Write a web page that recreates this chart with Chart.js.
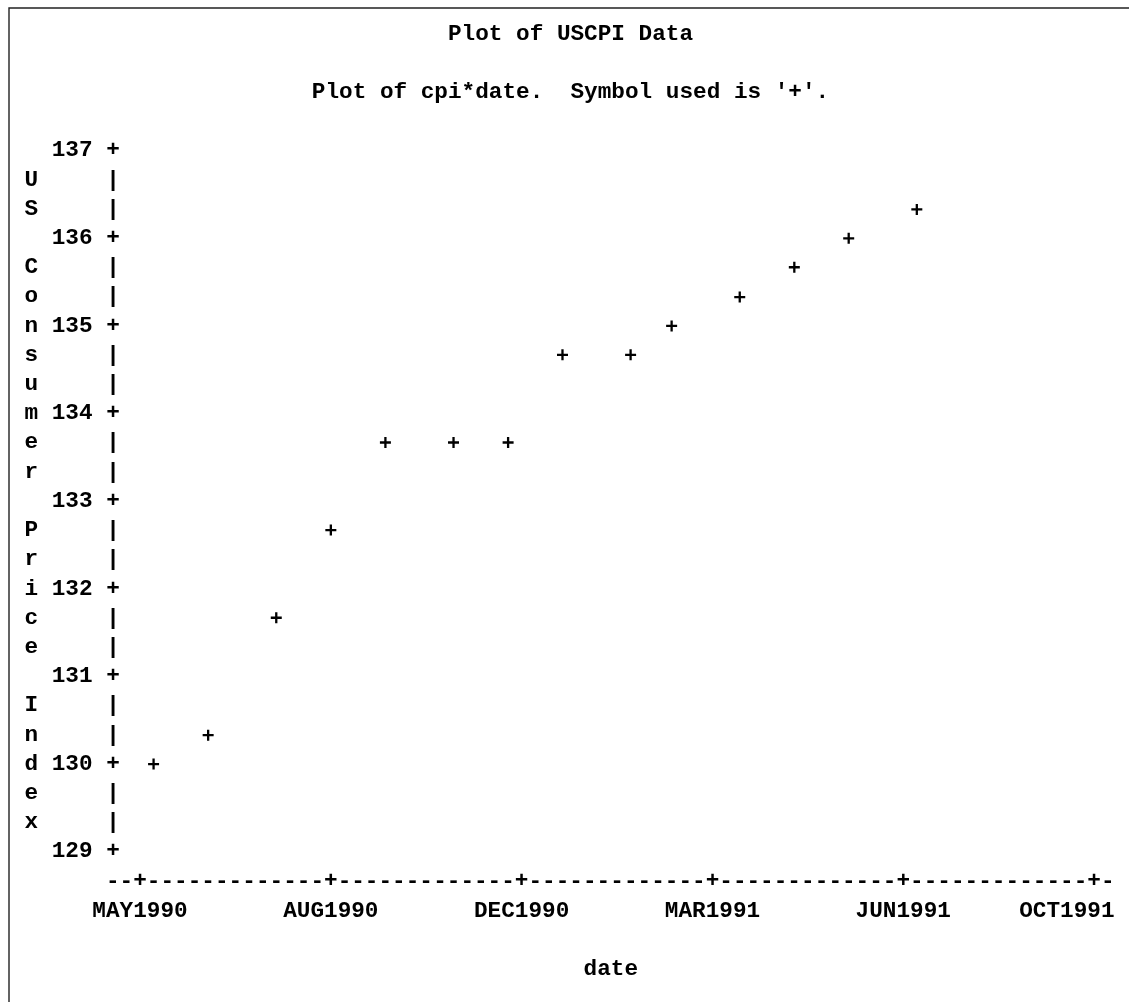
<!DOCTYPE html>
<html>
<head>
<meta charset="utf-8">
<script src="https://cdn.jsdelivr.net/npm/chart.js@4.4.1/dist/chart.umd.min.js"></script>
<style>
  body { margin: 0; background: #fff; }
  canvas { display: block; }
</style>
</head>
<body>
<canvas id="cpi" width="1129" height="1002"></canvas>
<script>
// USCPI, one value a month, JUN1990 .. JUL1991 (as plotted on the printer grid)
var months = ['JUN1990', 'JUL1990', 'AUG1990', 'SEP1990', 'OCT1990', 'NOV1990', 'DEC1990',
              'JAN1991', 'FEB1991', 'MAR1991', 'APR1991', 'MAY1991', 'JUN1991', 'JUL1991'];
// x position in days after 01MAY1990
var dayPos = [27.1, 55.7, 91.4, 120.0, 148.6, 184.3, 212.9, 241.4, 277.1, 298.6, 334.3, 362.9, 391.4, 427.1];
var cpi = [130.0, 130.33, 131.67, 132.67, 133.67, 133.67, 133.67, 134.67, 134.67, 135.0, 135.33, 135.67, 136.0, 136.33];

var xTickDays = [20, 120, 220, 320, 420, 520];
var xTickLabels = ['MAY1990', 'AUG1990', 'DEC1990', 'MAR1991', 'JUN1991', 'OCT1991'];
var yTicks = [129, 130, 131, 132, 133, 134, 135, 136, 137];

var titleText = 'Plot of USCPI Data';
var subtitleText = "Plot of cpi*date.  Symbol used is '+'.";
var yTitle = 'US Consumer Price Index';
var xTitle = 'date';

var mono = "'Liberation Mono', 'Courier New', monospace";
var fontSize = 22.7;
var lineH = 29.2 / 22.7;

// printer rows: three per unit on the vertical axis
var yRows = [];
yTicks.forEach(function (v, i) {
    yRows.push(v);
    if (i < yTicks.length - 1) {
        yRows.push(v + 1 / 3);
        yRows.push(v + 2 / 3);
    }
});

function yLabel(value, index) {
    var row = yRows.length - 1 - index;
    var pad = Math.floor((yRows.length - yTitle.length) / 2);
    var letter = yTitle.charAt(row - pad) || ' ';
    if (index % 3 === 0) {
        return letter + ' ' + String(value).padStart(3, ' ') + ' +';
    }
    return letter + '     |';
}

function xRule(i, n) {
    var left = i === 0 ? '     --' : ' ------';
    var right = i === n - 1 ? '-      ' : '-------';
    return left + '+' + right;
}

function xLabel(value, index) {
    var n = xTickLabels.length;
    var text = xTickLabels[index];
    if (index === n - 1) text += '    ';
    return [xRule(index, n), text];
}

var framePlugin = {
    id: 'frame',
    beforeDraw: function (chart) {
        var ctx = chart.ctx;
        ctx.save();
        ctx.strokeStyle = '#222';
        ctx.lineWidth = 1.4;
        ctx.beginPath();
        ctx.moveTo(chart.width, 8);
        ctx.lineTo(9, 8);
        ctx.lineTo(9, chart.height);
        ctx.stroke();
        ctx.restore();
    }
};

var monoFont = { family: mono, size: fontSize, weight: 'bold', lineHeight: lineH };

Chart.defaults.color = '#000';

var cpiChart = new Chart(document.getElementById('cpi'), {
    type: 'scatter',
    data: {
        datasets: [
            {
                label: 'cpi',
                data: months.map(function (m, i) { return { x: dayPos[i], y: cpi[i] }; }),
                pointStyle: 'cross',
                pointRadius: 5.5,
                pointBorderWidth: 2.3,
                borderColor: '#000',
                backgroundColor: '#000'
            }
        ]
    },
    options: {
        responsive: false,
        animation: false,
        devicePixelRatio: 1,
        layout: { autoPadding: false, padding: { left: 12, right: 0, top: 0, bottom: 0 } },
        plugins: {
            legend: { display: false },
            tooltip: { enabled: false },
            title: {
                display: true,
                text: titleText,
                color: '#000',
                font: monoFont,
                padding: { top: 19.3, bottom: 0 }
            },
            subtitle: {
                display: true,
                text: subtitleText,
                color: '#000',
                font: monoFont,
                padding: { top: 29.2, bottom: 43.8 }
            }
        },
        scales: {
            x: {
                type: 'linear',
                min: 9.4,
                max: 538.3,
                grid: { display: false, drawTicks: false },
                border: { display: false },
                afterBuildTicks: function (scale) {
                    scale.ticks = xTickDays.map(function (d) { return { value: d }; });
                },
                afterFit: function (scale) {
                    scale.height = 150.3;
                    scale.paddingLeft = 0;
                    scale.paddingRight = 0;
                },
                ticks: {
                    autoSkip: false,
                    maxRotation: 0,
                    minRotation: 0,
                    padding: 15.4,
                    font: monoFont,
                    callback: xLabel
                },
                title: {
                    display: true,
                    text: xTitle + '  ',
                    font: monoFont,
                    padding: { top: 0, bottom: 18.1 }
                }
            },
            y: {
                min: 129,
                max: 137,
                grid: { display: false, drawTicks: false },
                border: { display: false },
                afterBuildTicks: function (scale) {
                    scale.ticks = yRows.map(function (v) { return { value: v }; });
                },
                afterFit: function (scale) {
                    scale.width = 107.8;
                },
                ticks: {
                    autoSkip: false,
                    padding: 0,
                    font: monoFont,
                    callback: yLabel
                }
            }
        }
    },
    plugins: [framePlugin]
});
</script>
</body>
</html>
